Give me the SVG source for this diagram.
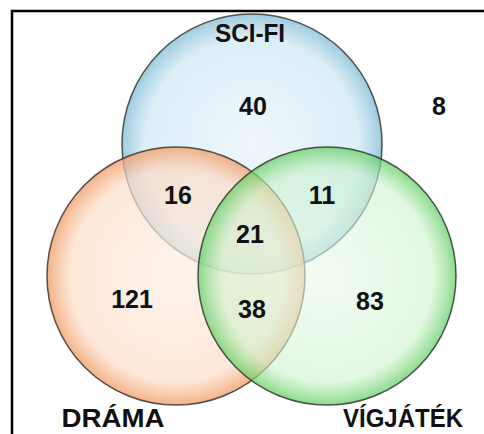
<svg xmlns="http://www.w3.org/2000/svg" width="484" height="434" viewBox="0 0 484 434">
<defs>
<radialGradient id="gb" cx="0.5" cy="0.5" r="0.5">
<stop offset="0" stop-color="#e8f4f9" stop-opacity="0.75"/>
<stop offset="0.82" stop-color="#d0e8f2" stop-opacity="0.75"/>
<stop offset="1" stop-color="#86c0d8" stop-opacity="0.8"/>
</radialGradient>
<radialGradient id="go" cx="0.5" cy="0.5" r="0.5">
<stop offset="0" stop-color="#fef0e6" stop-opacity="0.7"/>
<stop offset="0.82" stop-color="#fcdcc6" stop-opacity="0.7"/>
<stop offset="1" stop-color="#f0a06c" stop-opacity="0.8"/>
</radialGradient>
<radialGradient id="gg" cx="0.5" cy="0.5" r="0.5">
<stop offset="0" stop-color="#e8fae8" stop-opacity="0.6"/>
<stop offset="0.82" stop-color="#cdf2cd" stop-opacity="0.6"/>
<stop offset="1" stop-color="#66cf66" stop-opacity="0.75"/>
</radialGradient>
<style>
.c{stroke:#2a2a2a;stroke-width:1.5;stroke-opacity:0.8}
text{font-family:"Liberation Sans",Arial,sans-serif;font-weight:bold;fill:#111;text-anchor:middle}
.n{font-size:25px}
.l{font-size:25px}
</style>
</defs>
<rect width="484" height="434" fill="#ffffff"/>
<path d="M12,434 V11 H484" fill="none" stroke="#000" stroke-width="2.5"/>
<g id="scifi"><circle class="c" cx="252" cy="144" r="130" fill="url(#gb)"/></g>
<g id="drama"><circle class="c" cx="176" cy="276" r="129" fill="url(#go)"/></g>
<g id="vigjatek"><circle class="c" cx="327" cy="276" r="129" fill="url(#gg)"/></g>
<g id="labels">
<text class="l" x="250" y="42" textLength="70" lengthAdjust="spacingAndGlyphs">SCI-FI</text>
<text class="l" x="113" y="427" textLength="103" lengthAdjust="spacingAndGlyphs">DRÁMA</text>
<text class="l" x="403" y="427" textLength="120" lengthAdjust="spacingAndGlyphs">VÍGJÁTÉK</text>
<text class="n" x="253" y="115">40</text>
<text class="n" x="439" y="115">8</text>
<text class="n" x="178" y="204">16</text>
<text class="n" x="322" y="204">11</text>
<text class="n" x="250" y="243">21</text>
<text class="n" x="132" y="308">121</text>
<text class="n" x="252" y="318">38</text>
<text class="n" x="370" y="310">83</text>
</g>
</svg>
